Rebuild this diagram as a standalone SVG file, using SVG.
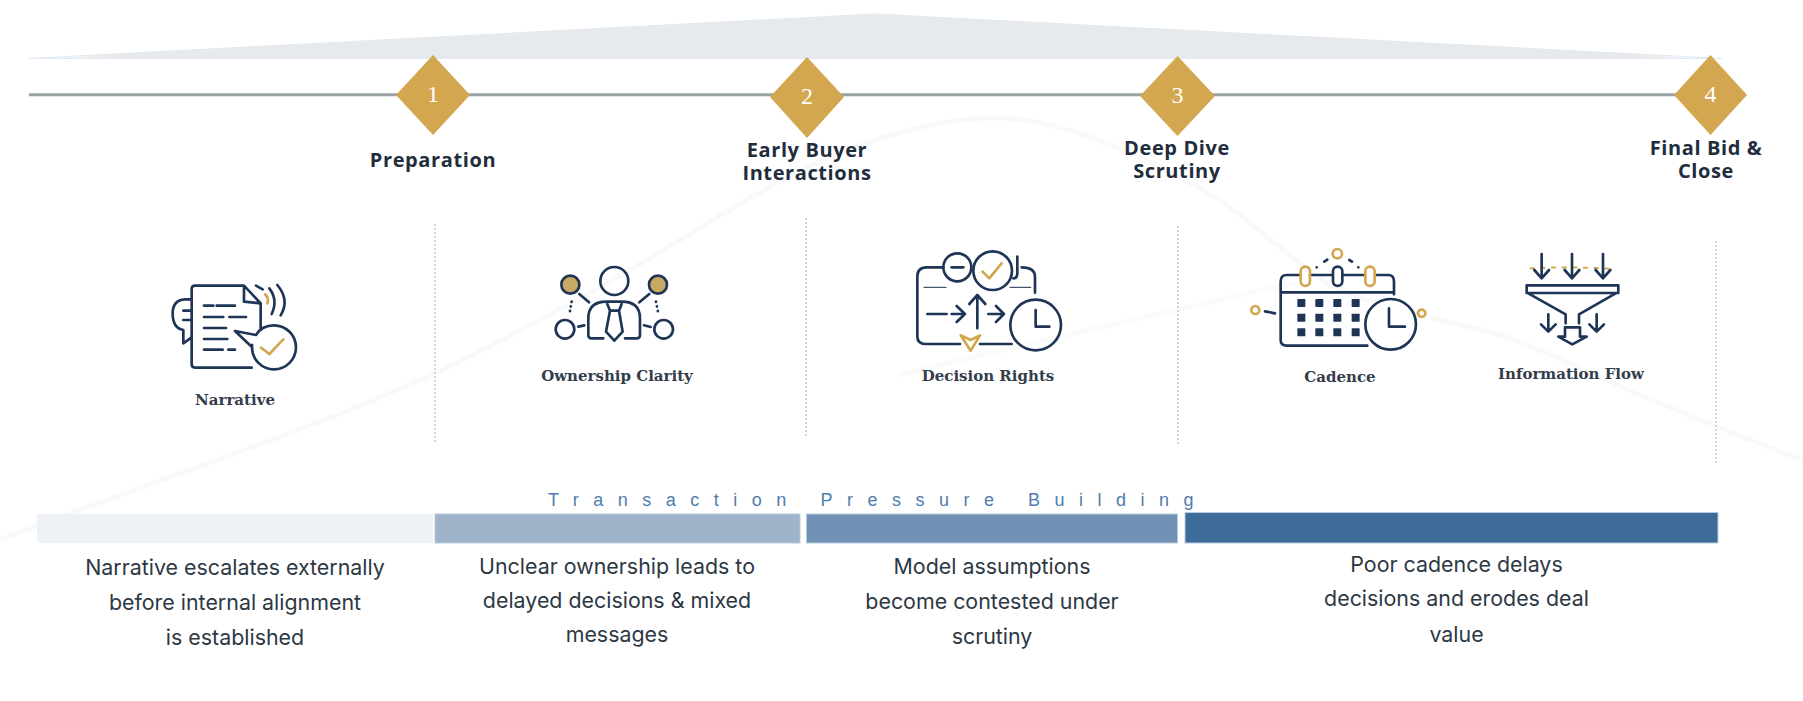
<svg xmlns="http://www.w3.org/2000/svg" width="1803" height="701" viewBox="0 0 1803 701">
<style>
.bg{fill:none;stroke:#f9f9fa;stroke-width:5}
.bg2{fill:none;stroke:#fbfbfc;stroke-width:5}
.dia{fill:#d2a74f}
.num{font-family:"Liberation Serif",serif;font-size:24px;fill:#fff;text-anchor:middle}
.head{font-family:"Open Sans",sans-serif;font-weight:700;font-size:20px;letter-spacing:.6px;fill:#1f2d3d;text-anchor:middle}
.cap{font-family:"DejaVu Serif",serif;font-weight:700;font-size:15px;fill:#333d4b;text-anchor:middle}
.body{font-family:Inter,sans-serif;font-size:21.4px;fill:#2d3844;text-anchor:middle}
.div{stroke:#a9adb0;stroke-width:1;stroke-dasharray:2 2;fill:none}
.ic{fill:none;stroke:#1f3556;stroke-width:8;stroke-linecap:round;stroke-linejoin:round}
.g{fill:none;stroke:#d2a74f;stroke-width:8;stroke-linecap:round;stroke-linejoin:round}
.thin{stroke-width:4;stroke:#46566e}
.bar{stroke:#b9cade;stroke-width:1}
</style>
<defs>
<linearGradient id="peakEdge" x1="0" x2="1" y1="0" y2="0"><stop offset="0" stop-color="#e6eaec" stop-opacity="0"/><stop offset=".05" stop-color="#e6eaec"/><stop offset=".95" stop-color="#e6eaec"/><stop offset="1" stop-color="#e6eaec" stop-opacity="0"/></linearGradient>
</defs>
<rect width="1803" height="701" fill="#fff"/>
<g id="background">
<path class="bg" d="M0,540 C180,470 380,410 520,330 C600,290 680,240 746,200 C800,170 850,145 900,133 C950,118 1000,112 1050,125 C1110,140 1170,170 1220,200 C1270,235 1300,270 1340,290 C1400,315 1450,320 1500,335 C1550,352 1600,378 1640,395 C1700,420 1760,445 1803,460"/>
<path class="bg2" d="M900,375 C960,360 1020,345 1080,332 C1140,318 1200,305 1240,295 C1260,290 1280,287 1295,284"/>
</g>
<g id="peak"><path d="M29,58.5 L875,14 L1722,58.5 Z" fill="url(#peakEdge)" stroke="#e1e9f2" stroke-width="1" stroke-linejoin="round"/></g>
<g id="connectors">
<path d="M29,94.7 H1680" stroke="#9aa1a5" stroke-width="3" fill="none"/>
<path class="div" d="M435,224 V443"/>
<path class="div" d="M806,218 V438"/>
<path class="div" d="M1178,226 V446"/>
<path class="div" d="M1716,241 V464"/>
</g>
<g id="node-1"><path class="dia" d="M433,55 L470,95 L433,135 L396,95 Z"/><text class="num" x="433" y="102">1</text><text class="head" x="433" y="167">Preparation</text></g>
<g id="node-2"><path class="dia" d="M807,57 L844,97 L807,138 L770,97 Z"/><text class="num" x="807" y="104">2</text><text class="head" x="807" y="157">Early Buyer</text><text class="head" x="807" y="180">Interactions</text></g>
<g id="node-3"><path class="dia" d="M1177.5,56 L1215,96 L1177.5,136 L1140,96 Z"/><text class="num" x="1177.5" y="103">3</text><text class="head" x="1177" y="155">Deep Dive</text><text class="head" x="1177" y="178">Scrutiny</text></g>
<g id="node-4"><path class="dia" d="M1710.5,55 L1747,95 L1710.5,135 L1674,95 Z"/><text class="num" x="1710.5" y="102">4</text><text class="head" x="1706" y="155">Final Bid &amp;</text><text class="head" x="1706" y="178">Close</text></g>

<g id="narrative">
<g transform="translate(150,250) scale(.3333)">
<path class="ic" d="M305,353 H135 Q125,353 125,343 V117 Q125,107 135,107 H282 L332,160 V235 M282,110 V155 L332,160"/>
<path class="ic" d="M162,167 H190 M200,167 H255 M162,201 H220 M238,201 H288 M162,234 H228 M162,267 H232 M162,299 H218 M235,299 H255"/>
<path class="ic" d="M125,148 H105 Q68,150 68,190 Q68,235 100,240 V280 L125,262 M100,182 H125 M100,210 H125"/>
<path class="ic" d="M255,243 L318,255 C330,235 350,226 372,226 A66,66 0 1 1 306,292 C306,285 307,280 305,290 Z"/>
<path class="g" d="M333,293 L358,312 L400,268 M345,133 Q358,145 352,160"/>
<path class="ic" d="M318,107 L338,118 M358,115 Q385,150 365,192 M382,105 Q420,150 392,196"/>
</g>
<text class="cap" x="235" y="405">Narrative</text>
</g>

<g id="ownership">
<g transform="translate(520,250) scale(.3333)">
<circle class="ic" cx="283" cy="93" r="42"/>
<circle class="ic" cx="151" cy="104" r="27" style="fill:#c9a862"/>
<circle class="ic" cx="414" cy="104" r="27" style="fill:#c9a862"/>
<circle class="ic" cx="135" cy="238" r="28"/>
<circle class="ic" cx="431" cy="238" r="28"/>
<path class="ic" d="M178,132 L207,157 M388,132 L358,157 M175,230 L193,226 M372,226 L392,231"/>
<path class="ic" d="M155,155 L148,195 M408,155 L416,195" stroke-dasharray="1 13"/>
<path class="ic" d="M250,265 H215 Q205,265 205,255 V205 Q205,155 260,155 H305 Q360,155 360,205 V255 Q360,265 350,265 H315"/>
<path class="ic" d="M262,162 L270,182 L258,245 L283,272 L308,245 L297,182 L305,162 M270,182 H297"/>
</g>
<text class="cap" x="617" y="381">Ownership Clarity</text>
</g>

<g id="decision-rights">
<g transform="translate(900,230) scale(.3333)">
<path class="ic" d="M130,112 H80 Q52,112 52,140 V320 Q52,342 80,342 H180 M240,342 H335 M365,112 Q405,112 405,140 V188"/>
<path class="ic thin" d="M72,172 H138 M330,172 H392"/>
<circle class="ic" cx="172" cy="112" r="42"/>
<path class="ic" d="M155,112 H190"/>
<circle class="ic" cx="278" cy="122" r="58"/>
<path class="g" d="M248,125 L268,145 L305,100"/>
<path class="ic" d="M352,80 V130 Q352,145 340,145"/>
<path class="ic" d="M82,252 H140 M155,252 H195 M170,228 L195,252 L170,276 M232,295 V195 M208,222 L232,195 L256,222 M265,252 H312 M288,228 L312,252 L288,276"/>
<circle class="ic" cx="407" cy="285" r="76"/>
<path class="ic" d="M407,240 V290 H448"/>
<path class="g" d="M182,316 L212,330 L240,316 L212,362 Z"/>
</g>
<text class="cap" x="988" y="381">Decision Rights</text>
</g>

<g id="cadence">
<g transform="translate(1240,235) scale(.3333)">
<path class="ic" d="M382,332 H140 Q122,332 122,315 V140 Q122,120 140,120 H180 M210,120 H278 M308,120 H375 M405,120 H445 Q462,120 462,140 V178 M122,172 H462"/>
<rect class="g" x="182" y="95" width="28" height="58" rx="14"/>
<rect class="ic" x="279" y="95" width="28" height="58" rx="14"/>
<rect class="g" x="376" y="95" width="28" height="58" rx="14"/>
<g fill="#1f3556">
<rect x="172" y="192" width="24" height="24" rx="2"/><rect x="226" y="192" width="24" height="24" rx="2"/><rect x="280" y="192" width="24" height="24" rx="2"/><rect x="335" y="192" width="24" height="24" rx="2"/>
<rect x="172" y="236" width="24" height="24" rx="2"/><rect x="226" y="236" width="24" height="24" rx="2"/><rect x="280" y="236" width="24" height="24" rx="2"/><rect x="335" y="236" width="24" height="24" rx="2"/>
<rect x="172" y="280" width="24" height="24" rx="2"/><rect x="226" y="280" width="24" height="24" rx="2"/><rect x="280" y="280" width="24" height="24" rx="2"/><rect x="335" y="280" width="24" height="24" rx="2"/>
</g>
<circle class="ic" cx="452" cy="268" r="76" style="fill:#fff"/>
<path class="ic" d="M447,220 V275 H495"/>
<circle class="g" cx="292" cy="56" r="14"/><circle class="g" cx="46" cy="225" r="12"/><circle class="g" cx="545" cy="235" r="11"/>
<path class="ic" d="M75,229 L105,235 M230,97 h.1 M253,80 L262,74 M328,75 L336,80 M355,97 h.1"/>
</g>
<text class="cap" x="1340" y="382">Cadence</text>
</g>

<g id="information-flow">
<g transform="translate(1500,235) scale(.3333)">
<path class="g" style="stroke-width:6;stroke-dasharray:10 22" d="M92,100 Q215,94 345,102"/>
<path class="ic" d="M125,57 V130 M103,105 L125,130 L147,105 M216,57 V130 M194,105 L216,130 L238,105 M309,57 V130 M287,105 L309,130 L331,105"/>
<path class="ic" d="M80,151 H355 V174 H80 Z M85,175 L197,238 V265 M347,175 L237,238 V265"/>
<path class="ic" d="M145,238 V288 M123,268 L145,290 L167,268 M290,238 V288 M268,268 L290,290 L312,268"/>
<path class="ic" d="M195,277 H240 V305 H260 L217,328 L175,305 H195 Z"/>
</g>
<text class="cap" x="1571" y="379">Information Flow</text>
</g>

<g id="pressure">
<text x="548" y="506" font-family="'Liberation Sans',sans-serif" font-size="18" fill="#4f7cac" letter-spacing="14.5">Transaction Pressure Building</text>
<rect x="37" y="514" width="396" height="29" fill="#eef2f6"/>
<rect class="bar" x="435" y="514" width="365" height="29" fill="#9fb4cb"/>
<rect class="bar" x="806.5" y="514" width="371" height="29" fill="#7092b5"/>
<rect class="bar" x="1185" y="512.5" width="533" height="30.5" fill="#3d6b9a"/>
</g>
<g id="text-1"><text class="body" x="235" y="575">Narrative escalates externally</text><text class="body" x="235" y="610">before internal alignment</text><text class="body" x="235" y="645">is established</text></g>
<g id="text-2"><text class="body" x="617" y="574">Unclear ownership leads to</text><text class="body" x="617" y="608">delayed decisions &amp; mixed</text><text class="body" x="617" y="642">messages</text></g>
<g id="text-3"><text class="body" x="992" y="574">Model assumptions</text><text class="body" x="992" y="609">become contested under</text><text class="body" x="992" y="644">scrutiny</text></g>
<g id="text-4"><text class="body" x="1456.5" y="572">Poor cadence delays</text><text class="body" x="1456.5" y="606">decisions and erodes deal</text><text class="body" x="1456.5" y="642">value</text></g>
</svg>
